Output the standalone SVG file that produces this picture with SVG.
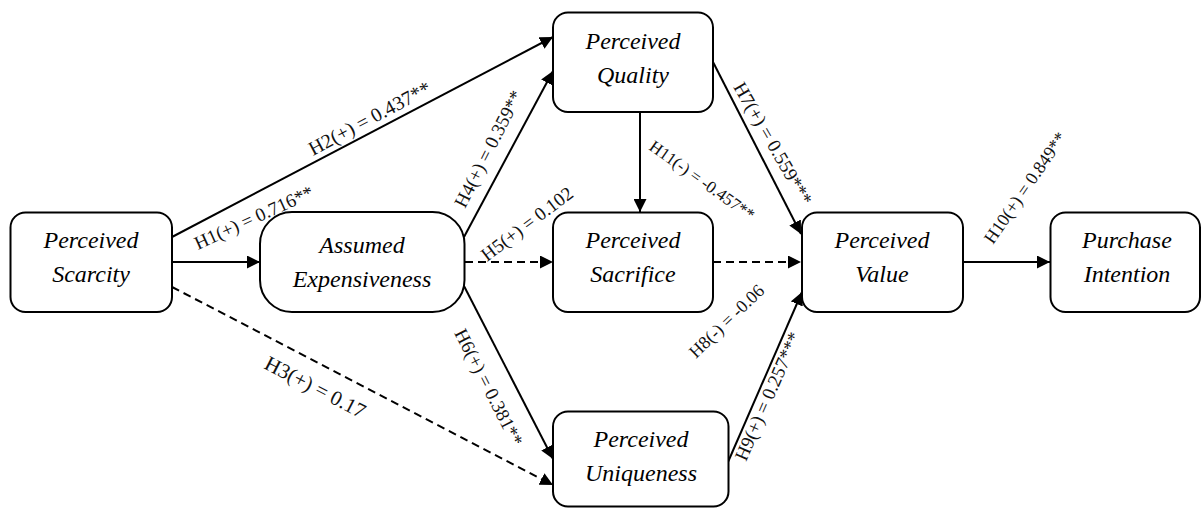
<svg xmlns="http://www.w3.org/2000/svg" width="1202" height="508" viewBox="0 0 1202 508">
<style>
.box{fill:#fff;stroke:#000;stroke-width:2}
.nt{font-family:"Liberation Serif","Times New Roman",serif;font-style:italic;font-size:24px;fill:#000;text-anchor:middle}
.lb{font-family:"Liberation Serif","Times New Roman",serif;font-size:19px;fill:#111}
.c{stroke:#000;stroke-width:2;fill:none;marker-end:url(#ah)}
.d{stroke-dasharray:8 5}
</style>
<defs>
<marker id="ah" markerUnits="userSpaceOnUse" markerWidth="14" markerHeight="13" refX="13" refY="6.5" orient="auto">
<path d="M0,0 L13,6.5 L0,13 z" fill="#000"/>
</marker>
</defs>
<rect width="1202" height="508" fill="#fff"/>
<g id="connectors">
<line class="c" x1="172" y1="262" x2="260" y2="262"/>
<line class="c" x1="172" y1="237" x2="553" y2="37"/>
<line class="c d" x1="172" y1="287" x2="553" y2="485"/>
<line class="c" x1="464" y1="237" x2="553" y2="71"/>
<line class="c d" x1="465" y1="262" x2="553" y2="262"/>
<line class="c" x1="464" y1="286" x2="553" y2="459"/>
<line class="c" x1="640" y1="112" x2="640" y2="212"/>
<line class="c" x1="713" y1="62" x2="801" y2="234"/>
<line class="c d" x1="713" y1="262" x2="801" y2="262"/>
<line class="c" x1="728" y1="462" x2="802" y2="292"/>
<line class="c" x1="963" y1="262" x2="1050" y2="262"/>
<text class="lb" transform="translate(198,250) rotate(-24.5)">H1(+) = 0.716**</text>
<text class="lb" style="font-size:20px" transform="translate(313,156) rotate(-28)">H2(+) = 0.437**</text>
<text class="lb" style="font-size:21px" transform="translate(263,368) rotate(27.4)">H3(+) = 0.17</text>
<text class="lb" transform="translate(465,209) rotate(-63)">H4(+) = 0.359**</text>
<text class="lb" transform="translate(487,262) rotate(-37)">H5(+) = 0.102</text>
<text class="lb" transform="translate(454,333) rotate(63)">H6(+) = 0.381**</text>
<text class="lb" transform="translate(733,87) rotate(60)">H7(+) = 0.559***</text>
<text class="lb" style="font-size:18px" transform="translate(696,359) rotate(-44)">H8(-) = -0.06</text>
<text class="lb" transform="translate(746,462) rotate(-66.4)">H9(+) = 0.257***</text>
<text class="lb" style="font-size:18px" transform="translate(993,245) rotate(-55.4)">H10(+) = 0.849**</text>
<text class="lb" style="font-size:17px" transform="translate(648,149) rotate(35.4)">H11(-) = -0.457**</text>
</g>
<g id="scarcity">
<rect class="box" x="10.5" y="212.5" width="161.5" height="99.5" rx="15"/>
<text class="nt" x="91" y="248">Perceived</text>
<text class="nt" x="91" y="282">Scarcity</text>
</g>
<g id="expensiveness">
<rect class="box" x="260" y="212" width="204.5" height="100" rx="32"/>
<text class="nt" x="362" y="253">Assumed</text>
<text class="nt" x="362" y="287">Expensiveness</text>
</g>
<g id="quality">
<rect class="box" x="553" y="12.5" width="160" height="99.5" rx="15"/>
<text class="nt" x="633" y="49">Perceived</text>
<text class="nt" x="633" y="83">Quality</text>
</g>
<g id="sacrifice">
<rect class="box" x="553" y="212.5" width="160" height="99.5" rx="15"/>
<text class="nt" x="633" y="248">Perceived</text>
<text class="nt" x="633" y="282">Sacrifice</text>
</g>
<g id="uniqueness">
<rect class="box" x="553" y="411.5" width="175.5" height="95" rx="15"/>
<text class="nt" x="641" y="447">Perceived</text>
<text class="nt" x="641" y="481">Uniqueness</text>
</g>
<g id="value">
<rect class="box" x="802" y="212.5" width="161" height="99.5" rx="15"/>
<text class="nt" x="882" y="248">Perceived</text>
<text class="nt" x="882" y="282">Value</text>
</g>
<g id="intention">
<rect class="box" x="1050.5" y="212.5" width="149.5" height="99.5" rx="15"/>
<text class="nt" x="1127" y="248">Purchase</text>
<text class="nt" x="1127" y="282">Intention</text>
</g>
</svg>
